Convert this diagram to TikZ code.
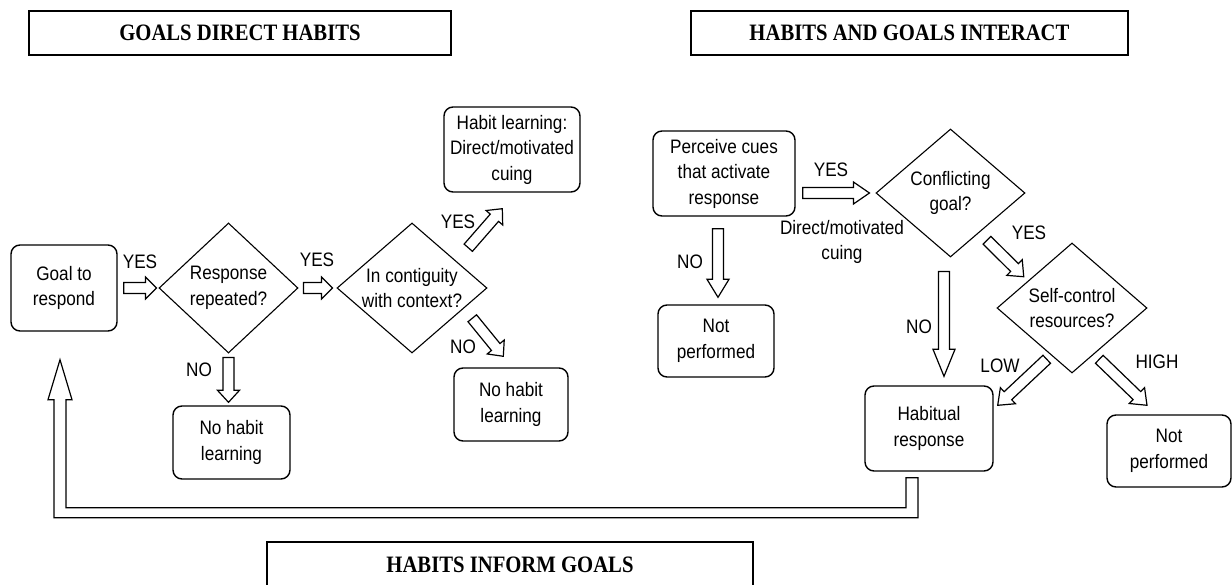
\documentclass[tikz,border=0pt]{standalone}
\usepackage{fontspec}
\setmainfont{Liberation Sans}[FakeStretch=0.88]
\newfontfamily\titlefamily{Liberation Serif}[FakeStretch=0.88]
\usepackage{tikz}
\usetikzlibrary{shapes.geometric,calc}
\newcommand{\bodysize}{\fontsize{19.5pt}{25.5pt}\selectfont}
\tikzset{
  stepbox/.style={draw, rounded corners=9pt, line width=1.4pt, align=center, inner sep=0pt, font=\bodysize},
  query/.style={draw, diamond, aspect=1.15, line width=1.1pt, align=center, inner sep=0pt, font=\bodysize},
  headbox/.style={draw, line width=1.6pt, minimum height=44pt, inner sep=0pt,
    font=\titlefamily\bfseries\fontsize{23.5pt}{27pt}\selectfont},
  tag/.style={font=\bodysize, inner sep=0pt, align=center},
  flowline/.style={draw, fill=white, line width=1.2pt, line join=miter},
  flow/.style={to path={let \p1=($(\tikztotarget)!#1!(\tikztostart)$) in
    ($(\tikztostart)!5.5pt!-90:(\tikztotarget)$) -- ($(\p1)!5.5pt!-90:(\tikztotarget)$)
    -- ($(\p1)!11pt!-90:(\tikztotarget)$) -- (\tikztotarget)
    -- ($(\p1)!11pt!90:(\tikztotarget)$) -- ($(\p1)!5.5pt!90:(\tikztotarget)$)
    -- ($(\tikztostart)!5.5pt!90:(\tikztotarget)$) -- cycle}},
  flow/.default=12pt,
}

\begin{document}
\begin{tikzpicture}[x=1pt, y=-1pt]
    \useasboundingbox (0,0) rectangle (1232,585);
    % headings
    \node [headbox, minimum width=422pt] (hdirect) at (240,33) {GOALS DIRECT HABITS};
    \node [headbox, minimum width=437pt] (hinteract) at (909.5,33) {HABITS AND GOALS INTERACT};
    \node [headbox, minimum width=486pt, minimum height=46pt] (hinform) at (510,565) {HABITS INFORM GOALS};
    % goals direct habits
    \node [stepbox, minimum width=106pt, minimum height=86pt] (goal) at (64,288) {Goal to\\respond};
    \node [query, minimum width=139pt, minimum height=130pt] (rep) at (228.5,288) {Response\\repeated?};
    \node [query, minimum width=150pt, minimum height=130pt] (cont) at (412,288) {In contiguity\\with context?};
    \node [stepbox, minimum width=117pt, minimum height=73pt] (nohab1) at (231.5,442.5) {No habit\\learning};
    \node [stepbox, minimum width=136pt, minimum height=85pt] (hl) at (512,149.5) {Habit learning:\\Direct/motivated\\cuing};
    \node [stepbox, minimum width=114pt, minimum height=73pt] (nohab2) at (511,404.5) {No habit\\learning};
    % habits and goals interact
    \node [stepbox, minimum width=142pt, minimum height=85pt] (perc) at (724,173.5) {Perceive cues\\that activate\\response};
    \node [stepbox, minimum width=116pt, minimum height=72pt] (np1) at (716,341) {Not\\performed};
    \node [query, minimum width=149pt, minimum height=128pt] (conf) at (950.5,193) {Conflicting\\goal?};
    \node [query, minimum width=150pt, minimum height=130pt] (selfc) at (1072,308) {Self-control\\resources?};
    \node [stepbox, minimum width=128pt, minimum height=85pt] (habit) at (929,428.5) {Habitual\\response};
    \node [stepbox, minimum width=124pt, minimum height=72pt] (np2) at (1169,451) {Not\\performed};
    % labels
    \node [tag] (yes1) at (140,262) {YES};
    \node [tag] (yes2) at (317,260) {YES};
    \node [tag] (no1) at (199,370) {NO};
    \node [tag] (yes3) at (458,222) {YES};
    \node [tag] (no2) at (463,347) {NO};
    \node [tag] (yes4) at (831,170) {YES};
    \node [tag] (cuing) at (842,242) {Direct/motivated\\cuing};
    \node [tag] (no3) at (690,262) {NO};
    \node [tag] (no4) at (919,327) {NO};
    \node [tag] (yes5) at (1029,233) {YES};
    \node [tag] (low) at (1000,366) {LOW};
    \node [tag] (high) at (1157,362) {HIGH};
    % block arrows
    \path [flowline] ([xshift=6pt]goal.east) to[flow=11pt] ([xshift=-2pt]rep.west);
    \path [flowline] ([xshift=5pt]rep.east) to[flow=11pt] ([xshift=-4pt]cont.west);
    \path [flowline] ([yshift=-4pt]rep.south) to[flow] ([yshift=3pt]rep.south |- nohab1.north);
    \path [flowline] ([shift={(18.5pt,7.5pt)}]cont.north east) to[flow] ([shift={(59pt,-16pt)}]hl.south west);
    \path [flowline] ([shift={(22.5pt,2.5pt)}]cont.south east) to[flow] ([shift={(50pt,11pt)}]nohab2.north west);
    \path [flowline] ([xshift=7pt]perc.east |- conf.west) to[flow=16pt] ([xshift=-6pt]conf.west);
    \path [flowline] ([shift={(-6pt,-12pt)}]perc.south) to[flow=18pt] ([shift={(2pt,7pt)}]np1.north);
    \path [flowline] ([shift={(-6.5pt,-14pt)}]conf.south) to[flow=27pt] ([shift={(15pt,9pt)}]habit.north);
    \path [flowline] ([shift={(-1pt,-15pt)}]conf.south east) to[flow=13pt] ([shift={(-10.5pt,-1.5pt)}]selfc.north west);
    \path [flowline] ([shift={(12.5pt,-18.5pt)}]selfc.south west) to[flow=14pt] ([shift={(4pt,-20pt)}]habit.north east);
    \path [flowline] ([shift={(-10.5pt,-18.5pt)}]selfc.south east) to[flow=14pt] ([shift={(-22pt,9pt)}]np2.north);
    % habits inform goals
    \path [flowline] let \p1=(habit.south), \p2=(goal.south) in
      (\x1-23pt,\y1-6pt) -- (\x1-11pt,\y1-6pt) -- (\x1-11pt,\y1-46pt) -- (\x2-10pt,\y1-46pt)
      -- (\x2-10pt,\y2-68pt) -- (\x2-16pt,\y2-68pt) -- (\x2-4pt,\y2-28pt) -- (\x2+8pt,\y2-68pt)
      -- (\x2+2pt,\y2-68pt) -- (\x2+2pt,\y1-36pt) -- (\x1-23pt,\y1-36pt) -- cycle;
\end{tikzpicture}
\end{document}
